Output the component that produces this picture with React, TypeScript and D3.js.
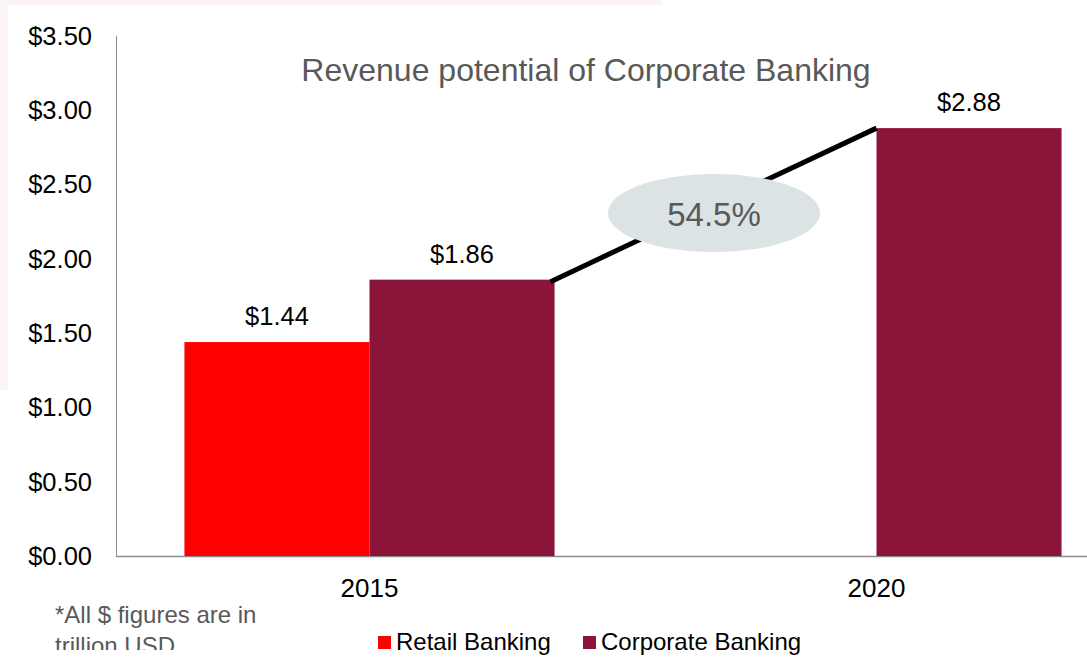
import { useEffect, useRef } from "react";
import * as d3 from "d3";

const years: string[] = ["2015", "2020"];
const seriesNames: string[] = ["Retail Banking", "Corporate Banking"];
const retail: (number | null)[] = [1.44, null];
const corporate: number[] = [1.86, 2.88];
const yTicks: number[] = [0, 0.5, 1, 1.5, 2, 2.5, 3, 3.5];
const growthLabel = "54.5%";
const title = "Revenue potential of Corporate Banking";
const footnote: string[] = ["*All $ figures are in", "trillion USD"];
const colors: string[] = ["#ff0000", "#8b1538"];

function App() {
  const svgRef = useRef<SVGSVGElement>(null);

  useEffect(() => {
    if (!svgRef.current) return;
    const svg = d3.select(svgRef.current);
    svg.selectAll("*").remove();

    const width = 1087;
    const height = 670;
    const font = "'Liberation Sans', Arial, sans-serif";
    svg.attr("width", width).attr("height", height).style("font-family", font);

    // faint background edges
    svg.append("rect").attr("x", 0).attr("y", 0).attr("width", width).attr("height", height).attr("fill", "#fff");
    svg.append("rect").attr("x", 0).attr("y", 0).attr("width", 662).attr("height", 5).attr("fill", "#fbf4f4");
    svg.append("rect").attr("x", 0).attr("y", 0).attr("width", 8).attr("height", 390).attr("fill", "#fbf4f4");

    const x0 = d3.scaleBand<string>().domain(years).range([116, 1130]).paddingInner(0.27).paddingOuter(0.135);
    const x1 = d3.scaleBand<string>().domain(seriesNames).range([0, x0.bandwidth()]);
    const y = d3.scaleLinear().domain([0, 3.5]).range([556, 36]);

    // axes
    svg.append("line").attr("x1", 116.5).attr("x2", 116.5).attr("y1", 36).attr("y2", 556).attr("stroke", "#8c8c8c");
    svg.append("line").attr("x1", 116).attr("x2", width).attr("y1", 556.5).attr("y2", 556.5).attr("stroke", "#8c8c8c").attr("stroke-width", 1.5);

    svg.append("g").selectAll("text").data(yTicks).join("text")
      .attr("x", 92).attr("y", (d) => y(d)).attr("dy", "0.35em")
      .attr("text-anchor", "end").attr("font-size", 25.5).attr("fill", "#000")
      .text((d) => "$" + d.toFixed(2));

    svg.append("g").selectAll("text").data(years).join("text")
      .attr("x", (d) => x0(d)! + x0.bandwidth() / 2).attr("y", 597)
      .attr("text-anchor", "middle").attr("font-size", 26).attr("fill", "#000")
      .text((d) => d);

    // bars
    const bars: { year: string; series: string; value: number; color: string }[] = [];
    years.forEach((yr, i) => {
      if (retail[i] != null) bars.push({ year: yr, series: seriesNames[0], value: retail[i] as number, color: colors[0] });
      bars.push({ year: yr, series: seriesNames[1], value: corporate[i], color: colors[1] });
    });

    svg.append("g").selectAll("rect").data(bars).join("rect")
      .attr("x", (d) => x0(d.year)! + x1(d.series)!)
      .attr("y", (d) => y(d.value))
      .attr("width", x1.bandwidth())
      .attr("height", (d) => 556 - y(d.value))
      .attr("fill", (d) => d.color);

    svg.append("g").selectAll("text").data(bars).join("text")
      .attr("x", (d) => x0(d.year)! + x1(d.series)! + x1.bandwidth() / 2)
      .attr("y", (d) => y(d.value) - 17)
      .attr("text-anchor", "middle").attr("font-size", 25.5).attr("fill", "#000")
      .text((d) => "$" + d.value.toFixed(2));

    // growth line
    const lx1 = x0(years[0])! + x1(seriesNames[1])! + x1.bandwidth() - 4;
    const lx2 = x0(years[1])! + x1(seriesNames[1])!;
    svg.append("line")
      .attr("x1", lx1).attr("y1", y(corporate[0]) + 2)
      .attr("x2", lx2).attr("y2", y(corporate[1]))
      .attr("stroke", "#000").attr("stroke-width", 5);

    svg.append("ellipse").attr("cx", 714).attr("cy", 213).attr("rx", 106).attr("ry", 39).attr("fill", "#dce3e5");
    svg.append("text").attr("x", 714).attr("y", 214).attr("dy", "0.35em")
      .attr("text-anchor", "middle").attr("font-size", 33).attr("fill", "#595959").text(growthLabel);

    // title
    svg.append("text").attr("x", 586).attr("y", 81).attr("text-anchor", "middle")
      .attr("font-size", 32).attr("fill", "#595959").text(title);

    // footnote (clipped like the text box)
    svg.append("clipPath").attr("id", "fnclip").append("rect").attr("x", 0).attr("y", 590).attr("width", 400).attr("height", 60);
    svg.append("g").attr("clip-path", "url(#fnclip)").selectAll("text").data(footnote).join("text")
      .attr("x", 55).attr("y", (_, i) => 623 + i * 31)
      .attr("font-size", 24).attr("fill", "#595959").text((d) => d);

    // legend
    const legendX = [378, 583];
    const lg = svg.append("g").selectAll("g").data(seriesNames).join("g")
      .attr("transform", (_, i) => `translate(${legendX[i]},636)`);
    lg.append("rect").attr("width", 13).attr("height", 13).attr("fill", (_, i) => colors[i]);
    lg.append("text").attr("x", 18).attr("y", 14).attr("font-size", 24).attr("fill", "#000").text((d) => d);
  }, []);

  return <svg ref={svgRef} style={{ position: "absolute", left: 0, top: 0 }}></svg>;
}

export default App;
